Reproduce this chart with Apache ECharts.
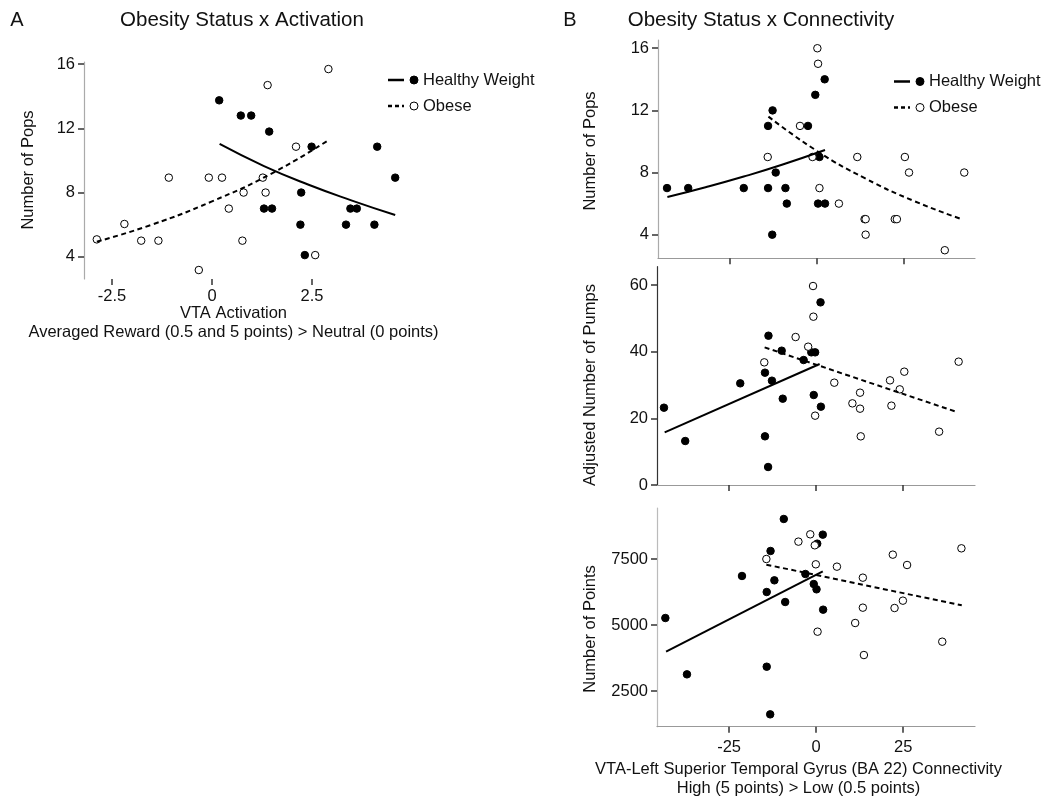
<!DOCTYPE html>
<html>
<head>
<meta charset="utf-8">
<script src="https://cdn.jsdelivr.net/npm/echarts@6/dist/echarts.min.js"></script>
<style>
  html, body { margin: 0; padding: 0; background: #fff; }
  #main { width: 1043px; height: 797px; }
</style>
</head>
<body>
<div id="main"></div>
<script>
// panel A: VTA activation vs number of pops
var actHealthy = [[0.18,13.75],[0.72,12.8],[0.98,12.8],[1.43,11.8],[1.3,7],[1.5,7],[2.23,8],[2.21,6],[2.32,4.1],[2.49,10.86],[3.35,6],[3.46,7],[3.62,7],[4.06,6],[4.13,10.86],[4.58,8.93]]
var actObese = [[-2.88,5.08],[-2.19,6.04],[-1.77,5],[-1.34,5],[-1.08,8.93],[-0.33,3.17],[-0.08,8.93],[0.25,8.93],[0.42,7],[0.79,8],[0.76,5],[1.27,8.93],[1.34,8],[1.39,14.7],[2.1,10.86],[2.58,4.1],[2.91,15.7]]
var actHealthyFit = [[0.19,11.03],[1.3,9.65],[2.4,8.5],[3.5,7.5],[4.58,6.6]]
var actObeseFit = [[-2.88,4.94],[-1.5,6.0],[0,7.45],[1.5,9.2],[2.92,11.28]]

// panel B: connectivity vs pops / pumps / points
var popsHealthy = [[-43.1,7],[-37,7],[-21,7],[-14,7],[-14,11],[-12.7,12],[-11.8,8],[-9,7],[-8.6,6],[-12.8,4],[-2.5,11],[-0.4,13],[0.8,9],[0.4,6],[2.4,6],[2.3,14]]
var popsObese = [[0.2,16],[0.4,15],[-4.8,11],[-14.1,9],[-1.2,9],[0.8,7],[6.4,6],[11.7,9],[13.8,5],[14.1,5],[14.1,4],[22.5,5],[23.1,5],[25.4,9],[26.6,8],[42.5,8],[36.9,3]]
var popsHealthyFit = [[-43,6.42],[-32,7.05],[-21,7.74],[-10,8.5],[2.4,9.45]]
var popsObeseFit = [[-13.9,11.6],[0,9.4],[14,7.62],[28,6.17],[41.9,4.99]]

var pumpsHealthy = [[-43.7,23.2],[-37.6,13.2],[-21.8,30.5],[-14.7,33.7],[-13.7,44.8],[-12.7,31.3],[-9.9,40.3],[-9.6,25.9],[-14.7,14.6],[-13.8,5.4],[-3.6,37.5],[-1.4,39.8],[-0.3,39.8],[-0.7,27],[1.25,54.8],[1.35,23.5]]
var pumpsObese = [[-0.9,59.7],[-0.8,50.5],[-5.9,44.4],[-2.3,41.5],[-14.9,36.8],[-0.3,20.8],[5.2,30.7],[10.4,24.5],[12.6,27.7],[12.6,22.9],[12.8,14.6],[21.2,31.4],[21.6,23.8],[24,28.7],[25.3,34],[35.3,16],[40.9,37]]
var pumpsHealthyFit = [[-43.5,15.8],[1,36.3]]
var pumpsObeseFit = [[-14.8,41.3],[40.4,21.9]]

var pointsHealthy = [[-43.3,5265],[-37.1,3131],[-21.3,6857],[-14.2,6250],[-13.1,7804],[-12,6692],[-9.3,9016],[-8.9,5871],[-14.2,3421],[-13.2,1615],[-3.1,6932],[-0.7,6553],[0.1,6351],[0.3,8082],[1.9,8423],[2,5581]]
var pointsObese = [[-14.3,7500],[-5.1,8158],[-1.7,8435],[-0.4,8019],[-0.1,7299],[0.4,4747],[5.96,7210],[11.2,5076],[13.4,6793],[13.4,5657],[13.7,3863],[22,7665],[22.5,5644],[24.9,5922],[26.1,7273],[36.2,4368],[41.7,7905]]
var pointsHealthyFit = [[-43.1,3990],[1.9,7033]]
var pointsObeseFit = [[-14.3,7286],[41.8,5745]]

// tick labels
var actXTicks = [-2.5, 0, 2.5]
var actYTicks = [4, 8, 12, 16]
var connXTicks = [-25, 0, 25]
var popsYTicks = [4, 8, 12, 16]
var pumpsYTicks = [0, 20, 40, 60]
var pointsYTicks = [2500, 5000, 7500]

var FONT = 'Liberation Sans, Arial, sans-serif'
var INK = '#111'
var plain = function (v) { return String(v) }

function xAxisOf(grid, min, max, ticks, showLabel, showLine) {
  return {
    type: 'value', gridIndex: grid, min: min, max: max,
    splitLine: { show: false },
    axisLine: { show: showLine, lineStyle: { color: '#999', width: 1.2 } },
    axisTick: { show: true, length: 6, customValues: ticks, lineStyle: { color: '#333', width: 1.5 } },
    axisLabel: { show: !!showLabel, customValues: ticks, margin: showLabel === 'wide' ? 12 : 9,
      color: INK, fontSize: 16.5, fontFamily: FONT, formatter: plain }
  }
}
function yAxisOf(grid, min, max, ticks, lineColor) {
  return {
    type: 'value', gridIndex: grid, min: min, max: max,
    splitLine: { show: false },
    axisLine: { show: true, onZero: false, lineStyle: { color: lineColor, width: 1.2 } },
    axisTick: { show: true, length: 6, customValues: ticks, lineStyle: { color: '#333', width: 1.5 } },
    axisLabel: { customValues: ticks, margin: 9, color: INK, fontSize: 16.5, fontFamily: FONT, formatter: plain }
  }
}

function dots(idx, data, filled) {
  return {
    type: 'scatter', xAxisIndex: idx, yAxisIndex: idx, data: data,
    symbolSize: 7.5, z: 3,
    itemStyle: filled ? { color: '#000', borderColor: '#000', borderWidth: 1, opacity: 1 }
                      : { color: '#fff', borderColor: '#000', borderWidth: 1, opacity: 1 }
  }
}
function fit(idx, data, dashed) {
  return {
    type: 'line', xAxisIndex: idx, yAxisIndex: idx, data: data,
    showSymbol: false, smooth: data.length > 2, z: 4,
    lineStyle: { color: '#000', width: 2, type: dashed ? [5, 3.5] : 'solid' }
  }
}

function legend(x, y) {
  return [
    { type: 'line', shape: { x1: x, y1: y, x2: x + 16, y2: y }, style: { stroke: '#000', lineWidth: 2.5 } },
    { type: 'circle', shape: { cx: x + 26, cy: y, r: 4 }, style: { fill: '#000', stroke: '#000' } },
    { type: 'text', x: x + 35, y: y, style: { text: 'Healthy Weight', font: '16.5px ' + FONT, fill: INK, verticalAlign: 'middle', textVerticalAlign: 'middle' } },
    { type: 'line', shape: { x1: x, y1: y + 26, x2: x + 16, y2: y + 26 }, style: { stroke: '#000', lineWidth: 2.5, lineDash: [4, 3] } },
    { type: 'circle', shape: { cx: x + 26, cy: y + 26, r: 4 }, style: { fill: '#fff', stroke: '#000', lineWidth: 1 } },
    { type: 'text', x: x + 35, y: y + 26, style: { text: 'Obese', font: '16.5px ' + FONT, fill: INK, verticalAlign: 'middle', textVerticalAlign: 'middle' } }
  ]
}
function label(x, y, text, size, rotated) {
  return {
    type: 'text', x: x, y: y, rotation: rotated ? Math.PI / 2 : 0,
    style: { text: text, font: size + 'px ' + FONT, fill: INK, lineHeight: 19,
      align: 'center', textAlign: 'center', verticalAlign: 'middle', textVerticalAlign: 'middle' }
  }
}

var chart = echarts.init(document.getElementById('main'))
chart.setOption({
  animation: false,
  backgroundColor: '#fff',
  grid: [
    { left: 84, top: 62, width: 320, height: 217 },
    { left: 658, top: 40, width: 317, height: 218.3 },
    { left: 657, top: 266.7, width: 318, height: 218.3 },
    { left: 657, top: 508, width: 318, height: 218.7 }
  ],
  xAxis: [
    xAxisOf(0, -3.2, 4.8, actXTicks, true, false),
    xAxisOf(1, -45.7, 45.6, connXTicks, false, true),
    xAxisOf(2, -45.7, 45.6, connXTicks, false, true),
    xAxisOf(3, -45.7, 45.6, connXTicks, 'wide', true)
  ],
  yAxis: [
    yAxisOf(0, 2.61, 16.14, actYTicks, '#aaa'),
    yAxisOf(1, 2.48, 16.53, popsYTicks, '#aaa'),
    yAxisOf(2, 0, 65.5, pumpsYTicks, '#333'),
    yAxisOf(3, 1148, 9432, pointsYTicks, '#bbb')
  ],
  series: [
    dots(0, actHealthy, true), dots(0, actObese, false),
    fit(0, actHealthyFit, false), fit(0, actObeseFit, true),
    dots(1, popsHealthy, true), dots(1, popsObese, false),
    fit(1, popsHealthyFit, false), fit(1, popsObeseFit, true),
    dots(2, pumpsHealthy, true), dots(2, pumpsObese, false),
    fit(2, pumpsHealthyFit, false), fit(2, pumpsObeseFit, true),
    dots(3, pointsHealthy, true), dots(3, pointsObese, false),
    fit(3, pointsHealthyFit, false), fit(3, pointsObeseFit, true)
  ],
  graphic: [].concat(
    legend(388, 80),
    legend(894, 81.5),
    [
      label(17, 20, 'A', 20, false),
      label(242, 20, 'Obesity Status x Activation', 20.5, false),
      label(570, 20, 'B', 20, false),
      label(761, 20, 'Obesity Status x Connectivity', 20.5, false),
      label(233.5, 322.5, 'VTA Activation\nAveraged Reward (0.5 and 5 points) > Neutral (0 points)', 16.5, false),
      label(798.5, 779, 'VTA-Left Superior Temporal Gyrus (BA 22) Connectivity\nHigh (5 points) > Low (0.5 points)', 16.5, false),
      label(28, 170, 'Number of Pops', 16.5, true),
      label(590, 151, 'Number of Pops', 16.5, true),
      label(590, 385, 'Adjusted Number of Pumps', 16.5, true),
      label(590, 629, 'Number of Points', 16.5, true)
    ]
  )
})
</script>
</body>
</html>
